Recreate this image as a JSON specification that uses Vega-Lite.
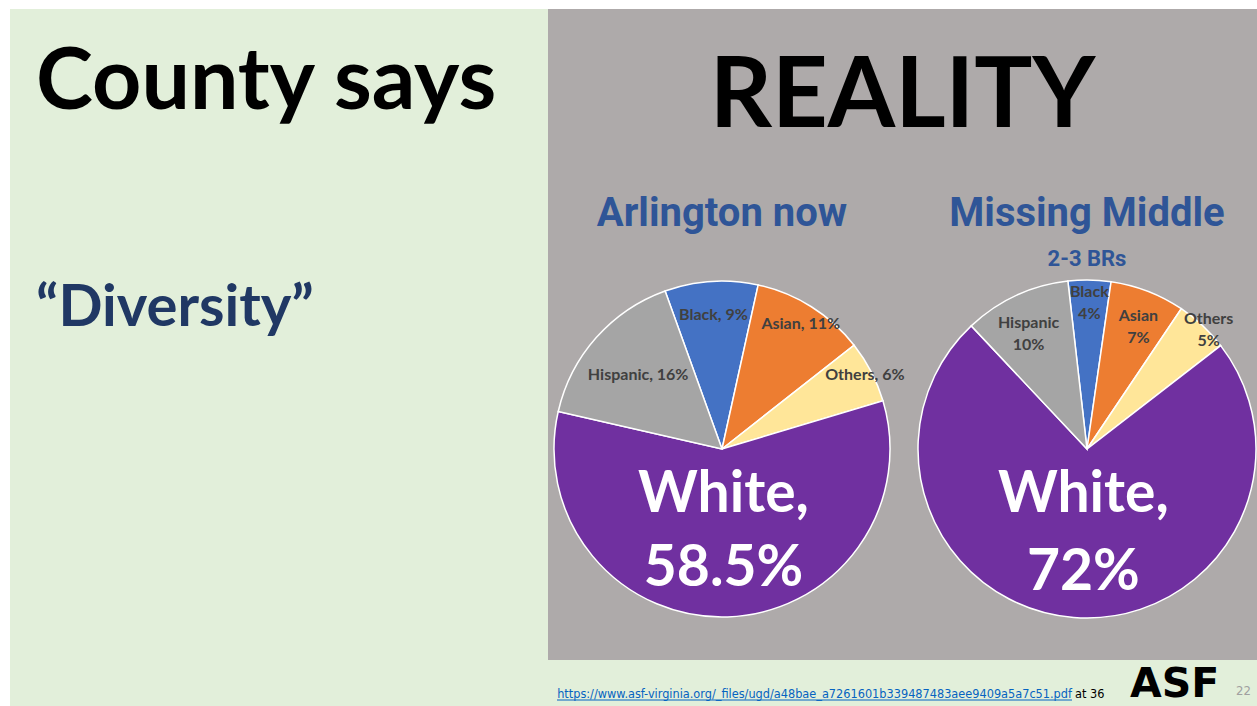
{
  "$schema": "https://vega.github.io/schema/vega-lite/v6.json",
  "background": "white",
  "padding": {"left": 10, "top": 9, "right": 0, "bottom": 0},
  "spacing": 0,
  "config": {"view": {"stroke": null}, "concat": {"spacing": 0}, "font": "Lato"},
  "vconcat": [
    {
      "spacing": 0,
      "hconcat": [
        {
          "width": 538,
          "height": 651,
          "view": {"fill": "#E2EFDA", "stroke": null},
          "title": {
            "text": "County says",
            "subtitle": "“Diversity”",
            "anchor": "start",
            "frame": "group",
            "orient": "top",
            "offset": -330,
            "dx": 26,
            "font": "Lato",
            "fontSize": 86,
            "fontWeight": "bold",
            "color": "#000000",
            "subtitleFont": "Lato",
            "subtitleFontSize": 58,
            "subtitleFontWeight": "bold",
            "subtitleColor": "#203864",
            "subtitlePadding": 153
          },
          "data": {"values": [{"t": ""}]},
          "mark": {"type": "text"},
          "encoding": {"text": {"field": "t"}}
        },
        {
          "width": 709,
          "height": 651,
          "view": {"fill": "#AEAAAA", "stroke": null},
          "title": {
            "text": "REALITY",
            "anchor": "middle",
            "frame": "group",
            "orient": "top",
            "offset": -138,
            "font": "Lato",
            "fontSize": 97,
            "fontWeight": "bold",
            "color": "#000000"
          },
          "data": {
            "values": [
              {"chart": "Arlington now", "group": "Black", "pct": 9, "k": 1, "lbl": "Black, 9%"},
              {"chart": "Arlington now", "group": "Asian", "pct": 11, "k": 2, "lbl": "Asian, 11%"},
              {"chart": "Arlington now", "group": "Others", "pct": 6, "k": 3, "lbl": "Others, 6%"},
              {"chart": "Arlington now", "group": "White", "pct": 58.5, "k": 4, "lbl": "White,\n58.5%"},
              {"chart": "Arlington now", "group": "Hispanic", "pct": 16, "k": 5, "lbl": "Hispanic, 16%"},
              {"chart": "Missing Middle", "group": "Black", "pct": 4, "k": 1, "lbl": "Black\n4%"},
              {"chart": "Missing Middle", "group": "Asian", "pct": 7, "k": 2, "lbl": "Asian\n7%"},
              {"chart": "Missing Middle", "group": "Others", "pct": 5, "k": 3, "lbl": "Others\n5%"},
              {"chart": "Missing Middle", "group": "White", "pct": 72, "k": 4, "lbl": "White,\n72%"},
              {"chart": "Missing Middle", "group": "Hispanic", "pct": 10, "k": 5, "lbl": "Hispanic\n10%"}
            ]
          },
          "encoding": {
            "x": {"field": "chart", "type": "nominal", "scale": {"type": "point", "padding": 0, "domain": ["Arlington now", "Missing Middle"], "range": [174, 539]}, "axis": null},
            "y": {"field": "chart", "type": "nominal", "scale": {"type": "point", "padding": 0, "domain": ["Arlington now", "Missing Middle"], "range": [440, 440]}, "axis": null}
          },
          "resolve": {"scale": {"theta": "independent"}},
          "layer": [
            {
              "data": {"values": [{"chart": "Arlington now", "heading": "Arlington now"}, {"chart": "Missing Middle", "heading": "Missing Middle"}]},
              "mark": {"type": "text", "dy": -235, "font": "Roboto", "fontWeight": "bold", "fontSize": 40, "fill": "#2F5597"},
              "encoding": {"text": {"field": "heading"}}
            },
            {
              "data": {"values": [{"chart": "Missing Middle", "heading": "2-3 BRs"}]},
              "mark": {"type": "text", "dy": -190, "font": "Roboto", "fontWeight": "bold", "fontSize": 22, "fill": "#2F5597"},
              "encoding": {"text": {"field": "heading"}}
            },
            {
              "transform": [{"filter": "datum.chart === 'Arlington now'"}],
              "encoding": {
                "theta": {"field": "pct", "type": "quantitative", "stack": true, "scale": {"range": [-0.3456, 5.9376]}},
                "order": {"field": "k", "type": "quantitative", "sort": "ascending"}
              },
              "layer": [
                {
                  "mark": {"type": "arc", "outerRadius": 168, "stroke": "white", "strokeWidth": 1.5},
                  "encoding": {"color": {"field": "group", "type": "nominal", "scale": {"domain": ["Black", "Asian", "Others", "White", "Hispanic"], "range": ["#4472C4", "#ED7D31", "#FFE699", "#7030A0", "#A5A5A5"]}, "legend": null}}
                },
                {
                  "mark": {"type": "text", "radius": 112, "font": "Lato", "fontWeight": "bold", "fontSize": 16, "fill": "#404040"},
                  "encoding": {"text": {"condition": {"test": "datum.group === 'Hispanic'", "field": "lbl"}, "value": ""}}
                },
                {
                  "mark": {"type": "text", "radius": 134, "font": "Lato", "fontWeight": "bold", "fontSize": 16, "fill": "#404040"},
                  "encoding": {"text": {"condition": {"test": "datum.group === 'Black'", "field": "lbl"}, "value": ""}}
                },
                {
                  "mark": {"type": "text", "radius": 148, "font": "Lato", "fontWeight": "bold", "fontSize": 16, "fill": "#404040"},
                  "encoding": {"text": {"condition": {"test": "datum.group === 'Asian'", "field": "lbl"}, "value": ""}}
                },
                {
                  "mark": {"type": "text", "radius": 161, "font": "Lato", "fontWeight": "bold", "fontSize": 16, "fill": "#404040"},
                  "encoding": {"text": {"condition": {"test": "datum.group === 'Others'", "field": "lbl"}, "value": ""}}
                },
                {
                  "mark": {"type": "text", "radius": 46, "font": "Lato", "fontWeight": "bold", "fontSize": 57, "lineHeight": 74, "lineBreak": "\n", "fill": "white"},
                  "encoding": {"text": {"condition": {"test": "datum.group === 'White'", "field": "lbl"}, "value": ""}}
                }
              ]
            },
            {
              "transform": [{"filter": "datum.chart === 'Missing Middle'"}],
              "encoding": {
                "theta": {"field": "pct", "type": "quantitative", "stack": true, "scale": {"range": [-0.1134, 6.1698]}},
                "order": {"field": "k", "type": "quantitative", "sort": "ascending"}
              },
              "layer": [
                {
                  "mark": {"type": "arc", "outerRadius": 169, "stroke": "white", "strokeWidth": 1.5},
                  "encoding": {"color": {"field": "group", "type": "nominal", "scale": {"domain": ["Black", "Asian", "Others", "White", "Hispanic"], "range": ["#4472C4", "#ED7D31", "#FFE699", "#7030A0", "#A5A5A5"]}, "legend": null}}
                },
                {
                  "mark": {"type": "text", "radius": 139, "font": "Lato", "fontWeight": "bold", "fontSize": 16, "lineHeight": 22, "lineBreak": "\n", "fill": "#404040"},
                  "encoding": {"text": {"condition": {"test": "datum.group === 'Hispanic'", "field": "lbl"}, "value": ""}}
                },
                {
                  "mark": {"type": "text", "radius": 157, "font": "Lato", "fontWeight": "bold", "fontSize": 16, "lineHeight": 22, "lineBreak": "\n", "fill": "#404040"},
                  "encoding": {"text": {"condition": {"test": "datum.group === 'Black'", "field": "lbl"}, "value": ""}}
                },
                {
                  "mark": {"type": "text", "radius": 143, "font": "Lato", "fontWeight": "bold", "fontSize": 16, "lineHeight": 22, "lineBreak": "\n", "fill": "#404040"},
                  "encoding": {"text": {"condition": {"test": "datum.group === 'Asian'", "field": "lbl"}, "value": ""}}
                },
                {
                  "mark": {"type": "text", "radius": 178, "font": "Lato", "fontWeight": "bold", "fontSize": 16, "lineHeight": 22, "lineBreak": "\n", "fill": "#404040"},
                  "encoding": {"text": {"condition": {"test": "datum.group === 'Others'", "field": "lbl"}, "value": ""}}
                },
                {
                  "mark": {"type": "text", "radius": 46, "font": "Lato", "fontWeight": "bold", "fontSize": 57, "lineHeight": 78, "lineBreak": "\n", "fill": "white"},
                  "encoding": {"text": {"condition": {"test": "datum.group === 'White'", "field": "lbl"}, "value": ""}}
                }
              ]
            }
          ]
        }
      ]
    },
    {
      "width": 1247,
      "height": 46,
      "view": {"fill": "#E2EFDA", "stroke": null},
      "data": {"values": [{"part": "link", "t": "https://www.asf-virginia.org/_files/ugd/a48bae_a7261601b339487483aee9409a5a7c51.pdf"}, {"part": "at", "t": "at 36"}, {"part": "logo", "t": "ASF"}, {"part": "page", "t": "22"}]},
      "layer": [
        {
          "transform": [{"filter": "datum.part === 'link'"}],
          "mark": {"type": "text", "align": "right", "baseline": "alphabetic", "font": "DejaVu Sans Condensed, sans-serif", "fontSize": 12.6, "fill": "#0563C1"},
          "encoding": {"text": {"field": "t"}, "x": {"value": 1062}, "y": {"value": 38}}
        },
        {
          "transform": [{"filter": "datum.part === 'link'"}],
          "mark": {"type": "rule", "stroke": "#0563C1", "strokeWidth": 1},
          "encoding": {"x": {"value": 547}, "x2": {"value": 1062}, "y": {"value": 40}}
        },
        {
          "transform": [{"filter": "datum.part === 'at'"}],
          "mark": {"type": "text", "align": "left", "baseline": "alphabetic", "font": "DejaVu Sans Condensed, sans-serif", "fontSize": 12.6, "fill": "#000000"},
          "encoding": {"text": {"field": "t"}, "x": {"value": 1065}, "y": {"value": 38}}
        },
        {
          "transform": [{"filter": "datum.part === 'logo'"}],
          "mark": {"type": "text", "align": "left", "baseline": "bottom", "font": "DejaVu Sans", "fontWeight": "bold", "fontSize": 41, "fill": "#000000"},
          "encoding": {"text": {"field": "t"}, "x": {"value": 1120}, "y": {"value": 46}}
        },
        {
          "transform": [{"filter": "datum.part === 'page'"}],
          "mark": {"type": "text", "align": "left", "baseline": "alphabetic", "font": "DejaVu Sans Condensed, sans-serif", "fontSize": 13, "fill": "#A0A0A0"},
          "encoding": {"text": {"field": "t"}, "x": {"value": 1226}, "y": {"value": 35}}
        }
      ]
    }
  ]
}
